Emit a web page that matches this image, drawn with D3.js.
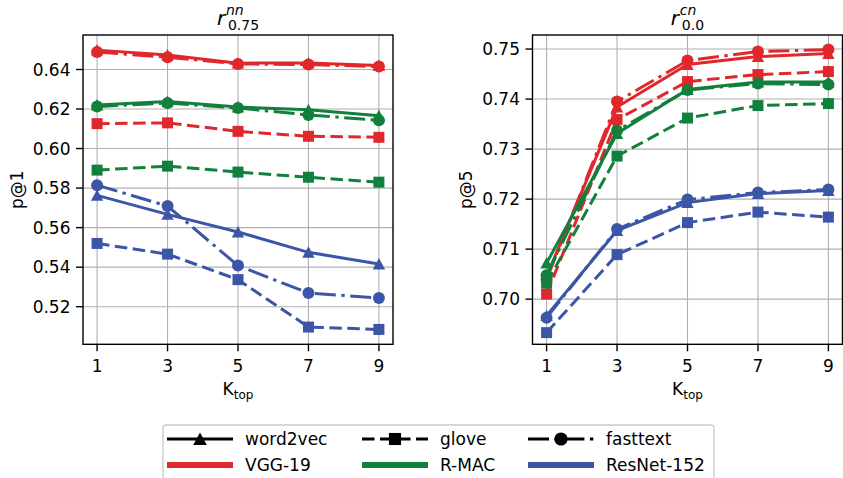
<!DOCTYPE html>
<html>
<head>
<meta charset="utf-8">
<script src="https://cdn.jsdelivr.net/npm/d3@7"></script>
<style>
  html, body { margin: 0; padding: 0; background: #fff; }
  svg { display: block; font-family: "DejaVu Sans", sans-serif; }
</style>
</head>
<body>
<div id="chart"></div>
<script>
// x values (K_top) and tick labels
const ktop = [1, 3, 5, 7, 9];
const models = ["VGG-19", "R-MAC", "ResNet-152"];
const embeddings = ["word2vec", "glove", "fasttext"];

// left panel: p@1, r^nn_0.75
const nnVggW2v   = [0.6498, 0.6473, 0.6432, 0.6433, 0.6420];
const nnVggGlove = [0.6126, 0.6130, 0.6087, 0.6062, 0.6057];
const nnVggFast  = [0.6488, 0.6462, 0.6428, 0.6425, 0.6415];
const nnRmacW2v   = [0.6220, 0.6238, 0.6210, 0.6196, 0.6166];
const nnRmacGlove = [0.5891, 0.5911, 0.5881, 0.5855, 0.5830];
const nnRmacFast  = [0.6213, 0.6230, 0.6205, 0.6170, 0.6143];
const nnResW2v   = [0.5763, 0.5667, 0.5578, 0.5475, 0.5416];
const nnResGlove = [0.5520, 0.5466, 0.5337, 0.5097, 0.5085];
const nnResFast  = [0.5815, 0.5709, 0.5408, 0.5269, 0.5244];
const nnTicks = [0.52, 0.54, 0.56, 0.58, 0.60, 0.62, 0.64];

// right panel: p@5, r^cn_0.0
const cnVggW2v   = [0.7045, 0.7384, 0.7469, 0.7485, 0.7491];
const cnVggGlove = [0.7010, 0.7359, 0.7435, 0.7449, 0.7455];
const cnVggFast  = [0.7040, 0.7395, 0.7477, 0.7495, 0.7499];
const cnRmacW2v   = [0.7072, 0.7331, 0.7419, 0.7434, 0.7434];
const cnRmacGlove = [0.7032, 0.7286, 0.7362, 0.7387, 0.7391];
const cnRmacFast  = [0.7048, 0.7337, 0.7418, 0.7431, 0.7429];
const cnResW2v   = [0.6967, 0.7137, 0.7193, 0.7211, 0.7217];
const cnResGlove = [0.6933, 0.7089, 0.7153, 0.7174, 0.7164];
const cnResFast  = [0.6963, 0.7140, 0.7199, 0.7213, 0.7219];
const cnTicks = [0.70, 0.71, 0.72, 0.73, 0.74, 0.75];

const colors = { "VGG-19": "#e0282c", "R-MAC": "#11803d", "ResNet-152": "#3c55a7" };
const dashes = { word2vec: null, glove: "12.5,5.5", fasttext: "21,5.5,3.4,5.5" };
const shapes = { word2vec: "triangle", glove: "square", fasttext: "circle" };

const panels = [
    {
        x0: 83, yDomain: [0.50098, 0.65745], ticks: nnTicks, ylabel: "p@1",
        sup: "nn", sub: "0.75",
        series: [
            [nnVggW2v, nnVggGlove, nnVggFast],
            [nnRmacW2v, nnRmacGlove, nnRmacFast],
            [nnResW2v, nnResGlove, nnResFast]
        ]
    },
    {
        x0: 532.5, yDomain: [0.69097, 0.75281], ticks: cnTicks, ylabel: "p@5",
        sup: "cn", sub: "0.0",
        series: [
            [cnVggW2v, cnVggGlove, cnVggFast],
            [cnRmacW2v, cnRmacGlove, cnRmacFast],
            [cnResW2v, cnResGlove, cnResFast]
        ]
    }
];

const width = 843, height = 478;
const pw = 310, plotTop = 35, plotBottom = 344.3;

const svg = d3.select("#chart")
    .append("svg")
    .attr("width", width)
    .attr("height", height);

// marker path centred on 0,0
function marker(shape, k = 1) {
    if (shape === "triangle") return `M0,${-6 * k}L${6.2 * k},${5.4 * k}L${-6.2 * k},${5.4 * k}Z`;
    if (shape === "square") return `M${-5.5 * k},${-5.5 * k}H${5.5 * k}V${5.5 * k}H${-5.5 * k}Z`;
    return d3.symbol(d3.symbolCircle, Math.PI * 36 * k * k)();
}

panels.forEach(p => {
    const x = d3.scaleLinear().domain([0.6, 9.4]).range([p.x0, p.x0 + pw]);
    const y = d3.scaleLinear().domain(p.yDomain).range([plotBottom, plotTop]);
    const g = svg.append("g");

    // grid
    g.selectAll(".gx").data(ktop).join("line")
        .attr("x1", d => x(d)).attr("x2", d => x(d))
        .attr("y1", plotTop).attr("y2", plotBottom)
        .attr("stroke", "#b0b0b0").attr("stroke-width", 1.1);
    g.selectAll(".gy").data(p.ticks).join("line")
        .attr("x1", p.x0).attr("x2", p.x0 + pw)
        .attr("y1", d => y(d)).attr("y2", d => y(d))
        .attr("stroke", "#b0b0b0").attr("stroke-width", 1.1);

    // lines + markers
    const line = d3.line().x((d, i) => x(ktop[i])).y(d => y(d));
    models.forEach((m, mi) => {
        embeddings.forEach((e, ei) => {
            const vals = p.series[mi][ei];
            g.append("path")
                .attr("d", line(vals))
                .attr("fill", "none")
                .attr("stroke", colors[m])
                .attr("stroke-width", 3)
                .attr("stroke-dasharray", dashes[e]);
            g.selectAll(null).data(vals).join("path")
                .attr("d", marker(shapes[e]))
                .attr("transform", (d, i) => `translate(${x(ktop[i])},${y(d)})`)
                .attr("fill", colors[m]);
        });
    });

    // frame
    g.append("rect")
        .attr("x", p.x0).attr("y", plotTop)
        .attr("width", pw).attr("height", plotBottom - plotTop)
        .attr("fill", "none").attr("stroke", "#000").attr("stroke-width", 1.4);

    // x ticks
    g.selectAll(".tx").data(ktop).join("line")
        .attr("x1", d => x(d)).attr("x2", d => x(d))
        .attr("y1", plotBottom).attr("y2", plotBottom + 7)
        .attr("stroke", "#000").attr("stroke-width", 1.4);
    g.selectAll(".lx").data(ktop).join("text")
        .attr("x", d => x(d)).attr("y", 372)
        .attr("text-anchor", "middle").attr("font-size", 17)
        .text(d => d);

    // y ticks
    g.selectAll(".ty").data(p.ticks).join("line")
        .attr("x1", p.x0 - 7).attr("x2", p.x0)
        .attr("y1", d => y(d)).attr("y2", d => y(d))
        .attr("stroke", "#000").attr("stroke-width", 1.4);
    g.selectAll(".ly").data(p.ticks).join("text")
        .attr("x", p.x0 - 12.5).attr("y", d => y(d) + 6.2)
        .attr("text-anchor", "end").attr("font-size", 17)
        .text(d => d3.format(".2f")(d));

    // axis labels
    const cx = p.x0 + pw / 2;
    const xl = g.append("text")
        .attr("x", cx).attr("y", 395)
        .attr("text-anchor", "middle").attr("font-size", 17)
        .text("K");
    xl.append("tspan").attr("dy", 4).attr("font-size", 12).text("top");

    g.append("text")
        .attr("transform", `translate(${p.x0 - 60.5},${(plotTop + plotBottom) / 2}) rotate(-90)`)
        .attr("text-anchor", "middle").attr("font-size", 17)
        .text(p.ylabel);

    // title r^sup_sub
    const subW = p.sub.length * 0.636 * 14 - (p.sub.includes(".") ? 0.318 * 14 : 0);
    const rx = cx - (11 + subW) / 2;
    g.append("text").attr("x", rx).attr("y", 24.5)
        .attr("font-size", 20).attr("font-style", "italic").text("r");
    g.append("text").attr("x", rx + 9).attr("y", 15)
        .attr("font-size", 14).attr("font-style", "italic").text(p.sup);
    g.append("text").attr("x", rx + 11).attr("y", 29.5)
        .attr("font-size", 14).text(p.sub);
});

// legend
const leg = svg.append("g");
leg.append("rect")
    .attr("x", 163).attr("y", 425).attr("width", 551).attr("height", 62)
    .attr("rx", 3)
    .attr("fill", "#fff").attr("fill-opacity", 0.8)
    .attr("stroke", "#cccccc").attr("stroke-width", 1.4);

const colX = [167, 362, 528];
const row1 = 439, row2 = 465;
embeddings.forEach((e, i) => {
    const x0 = colX[i];
    leg.append("line")
        .attr("x1", x0).attr("x2", x0 + 66)
        .attr("y1", row1).attr("y2", row1)
        .attr("stroke", "#000").attr("stroke-width", 3)
        .attr("stroke-dasharray", dashes[e]);
    leg.append("path")
        .attr("d", marker(shapes[e], 1.1))
        .attr("transform", `translate(${x0 + 33},${row1})`)
        .attr("fill", "#000");
    leg.append("text")
        .attr("x", x0 + 78).attr("y", row1 + 6.2)
        .attr("font-size", 17).text(e);
});
models.forEach((m, i) => {
    const x0 = colX[i];
    leg.append("line")
        .attr("x1", x0).attr("x2", x0 + 66)
        .attr("y1", row2).attr("y2", row2)
        .attr("stroke", colors[m]).attr("stroke-width", 6);
    leg.append("text")
        .attr("x", x0 + 78).attr("y", row2 + 6.2)
        .attr("font-size", 17).text(m);
});
</script>
</body>
</html>
